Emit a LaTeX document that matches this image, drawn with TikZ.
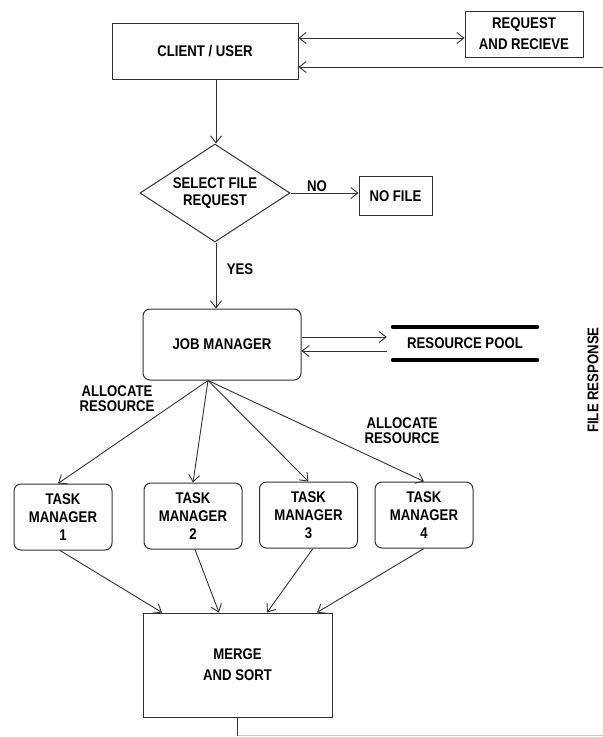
\documentclass[tikz,border=0pt]{standalone}
\usepackage{fontspec}
\setmainfont{Liberation Sans}[FakeStretch=0.85]
\usetikzlibrary{shapes.geometric,arrows.meta}
\definecolor{linec}{HTML}{333333}
\definecolor{faintc}{HTML}{C8C8C8}
\begin{document}
\begin{tikzpicture}[x=1pt,y=-1pt,
  font=\fontsize{15.5}{20}\selectfont\bfseries,
  box/.style={draw=linec, line width=1pt, rectangle, inner sep=0pt, align=center, text=black},
  rbox/.style={box, rounded corners=7pt},
  lbl/.style={inner sep=0pt, align=center, text=black},
  arr/.style={draw=linec, line width=0.9pt, -{Straight Barb[length=7pt,width=11pt]}},
  darr/.style={draw=linec, line width=0.9pt, {Straight Barb[length=7pt,width=11pt]}-{Straight Barb[length=7pt,width=11pt]}},
  conn/.style={draw=linec, line width=0.9pt},
  tm/.style={rbox, minimum width=98pt, minimum height=66pt, font=\fontsize{15.5}{18}\selectfont\bfseries}
]
\fill[white] (0,0) rectangle (603,737);
\useasboundingbox (0,0) rectangle (603,737);

% nodes
\node[box, minimum width=186pt, minimum height=56pt] (client) at (205,51) {CLIENT / USER};
\node[box, minimum width=118pt, minimum height=46pt, font=\fontsize{15.5}{21}\selectfont\bfseries] (req) at (524,34) {REQUEST\\AND RECIEVE};
\node[diamond, draw=linec, line width=1pt, shape aspect=1.6, minimum width=150pt, minimum height=98pt, inner sep=0pt, align=center, font=\fontsize{15.5}{17}\selectfont\bfseries] (sel) at (215,193) {SELECT FILE\\REQUEST};
\node[box, minimum width=73pt, minimum height=39pt] (nofile) at (395.5,196) {NO FILE};
\node[lbl] (no) at (317,186) {NO};
\node[lbl] (yes) at (240,269) {YES};
\node[rbox, minimum width=158pt, minimum height=71pt] (job) at (222,344.5) {JOB MANAGER};
\node[lbl, minimum width=144pt, minimum height=33pt] (pool) at (465,343.5) {RESOURCE POOL};
\node[lbl, font=\fontsize{15.5}{15}\selectfont\bfseries] (alloc1) at (117,399) {ALLOCATE\\RESOURCE};
\node[lbl, font=\fontsize{15.5}{15}\selectfont\bfseries] (alloc2) at (402,431) {ALLOCATE\\RESOURCE};
\node[tm] (tm1) at (63,517) {TASK\\MANAGER\\1};
\node[tm] (tm2) at (193,516) {TASK\\MANAGER\\2};
\node[tm] (tm3) at (308.5,515) {TASK\\MANAGER\\3};
\node[tm] (tm4) at (424,515) {TASK\\MANAGER\\4};
\node[box, minimum width=189pt, minimum height=104pt, font=\fontsize{15.5}{21}\selectfont\bfseries] (merge) at (237.5,665) {MERGE\\AND SORT};
\node[lbl, rotate=90] (fresp) at (593,380) {FILE RESPONSE};

\coordinate (tr) at (603,67);
\coordinate (br) at (603,735.5);

% resource pool bars
\draw[line width=4pt, line cap=round] (pool.north west) -- (pool.north east);
\draw[line width=4pt, line cap=round] (pool.south west) -- (pool.south east);

% connectors
\draw[darr] (client.east |- 0,38) -- (req.west |- 0,38);
\draw[arr] (tr) -- (client.east |- tr);
\draw[arr] ([xshift=11pt]client.south) -- ([xshift=11pt]client.south |- sel.north);
\draw[arr] (sel.east) -- (nofile.west |- sel.east);
\draw[arr] ([xshift=1pt]sel.south) -- ([xshift=1pt]sel.south |- job.north);
\draw[arr] (job.east |- 0,337) -- ([xshift=-6pt]pool.west |- 0,337);
\draw[arr] ([xshift=-6pt]pool.west |- 0,351) -- (job.east |- 0,351);

\draw[arr] ([xshift=-14pt]job.south) -- ([xshift=-5pt]tm1.north);
\draw[arr] ([xshift=-14pt]job.south) -- (tm2.north);
\draw[arr] ([xshift=-14pt]job.south) -- (tm3.north);
\draw[arr] ([xshift=-14pt]job.south) -- (tm4.north);

\draw[arr] ([xshift=-3pt]tm1.south) -- ([xshift=-75.5pt]merge.north);
\draw[arr] ([xshift=2pt]tm2.south) -- ([xshift=-18.5pt]merge.north);
\draw[arr] ([xshift=4.5pt]tm3.south) -- ([xshift=29.5pt]merge.north);
\draw[arr] (tm4.south) -- ([xshift=79.5pt]merge.north);

\draw[conn] (merge.south) -- (merge.south |- br);
\draw[draw=faintc, line width=0.9pt] (merge.south |- br) -- (br);
\end{tikzpicture}
\end{document}
